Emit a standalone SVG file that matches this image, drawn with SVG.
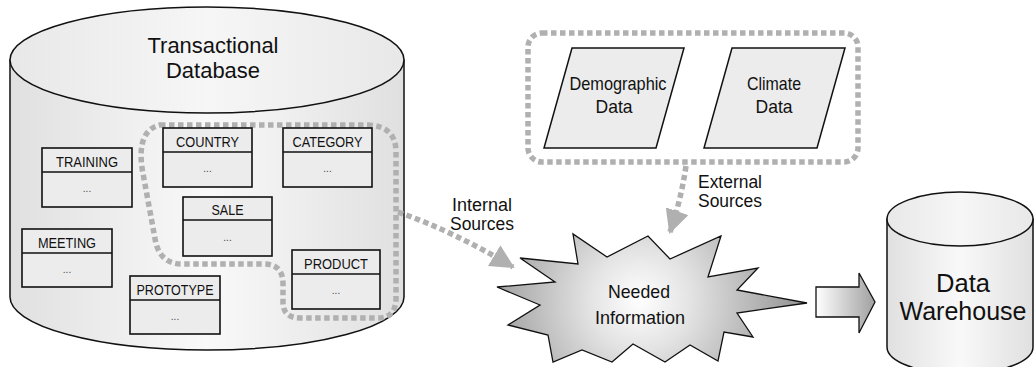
<svg xmlns="http://www.w3.org/2000/svg" width="1035" height="367" viewBox="0 0 1035 367">
<style>
text{font-family:"Liberation Sans",Arial,sans-serif;fill:#111}
.tbl rect{fill:#ececec;stroke:#111;stroke-width:1.6}
.tbl line{stroke:#111;stroke-width:1.6}
.th{font-size:14.5px;text-anchor:middle}
.dots{font-size:10px;text-anchor:middle;fill:#444}
.dash{fill:none;stroke:#b0b0b0;stroke-width:5.5;stroke-dasharray:5.5 3.5}
.lbl{font-size:17.5px;text-anchor:middle}
.big{font-size:19px;text-anchor:middle}
.cyl{stroke:#111;stroke-width:1.5}
</style>
<defs>
<linearGradient id="gBody" x1="0" y1="0" x2="1" y2="0">
<stop offset="0" stop-color="#e0e0e0"/><stop offset="0.5" stop-color="#f9f9f9"/><stop offset="1" stop-color="#e0e0e0"/>
</linearGradient>
<linearGradient id="gTop" x1="0" y1="0" x2="1" y2="0">
<stop offset="0" stop-color="#e8e8e8"/><stop offset="0.5" stop-color="#f6f6f6"/><stop offset="1" stop-color="#e8e8e8"/>
</linearGradient>
<radialGradient id="gStar" cx="640" cy="300" r="150" gradientUnits="userSpaceOnUse">
<stop offset="0" stop-color="#ffffff"/><stop offset="0.35" stop-color="#e2e2e2"/><stop offset="1" stop-color="#9c9c9c"/>
</radialGradient>
<linearGradient id="gArrow" x1="0" y1="0" x2="1" y2="0">
<stop offset="0" stop-color="#ffffff"/><stop offset="1" stop-color="#a0a0a0"/>
</linearGradient>
<marker id="ah" viewBox="0 0 24 24" refX="22" refY="12" markerWidth="24" markerHeight="24" markerUnits="userSpaceOnUse" orient="auto">
<path d="M0 0 L24 12 L0 24 Z" fill="#b0b0b0"/>
</marker>
</defs>

<g id="transactional-db">
<path class="cyl" fill="url(#gBody)" d="M10 60 L10 297 A197 53 0 0 0 404 297 L404 60 Z"/>
<ellipse class="cyl" fill="url(#gTop)" cx="207" cy="60" rx="197" ry="53"/>
<text x="213" y="53" style="font-size:22.5px;text-anchor:middle" textLength="131" lengthAdjust="spacingAndGlyphs">Transactional</text>
<text x="213" y="78" style="font-size:22.5px;text-anchor:middle" textLength="94" lengthAdjust="spacingAndGlyphs">Database</text>
</g>

<g id="internal-region">
<path class="dash" d="M160 125 L368 125 Q396 126 396 152 L396 298 Q396 318 378 318 L300 318 Q283 318 283 302 L283 284 Q283 264 264 264 L182 264 Q162 264 156 244 L142 168 Q137 130 160 125 Z"/>
</g>

<g id="t-training" class="tbl">
<rect x="42" y="148" width="90" height="59"/><line x1="42" y1="172" x2="132" y2="172"/>
<text class="th" x="87" y="167" textLength="62" lengthAdjust="spacingAndGlyphs">TRAINING</text><text class="dots" x="87" y="192">...</text>
</g>
<g id="t-country" class="tbl">
<rect x="163" y="128" width="89" height="59"/><line x1="163" y1="152" x2="252" y2="152"/>
<text class="th" x="207.5" y="147" textLength="63" lengthAdjust="spacingAndGlyphs">COUNTRY</text><text class="dots" x="207.5" y="172">...</text>
</g>
<g id="t-category" class="tbl">
<rect x="283" y="128" width="89" height="59"/><line x1="283" y1="152" x2="372" y2="152"/>
<text class="th" x="327.5" y="147" textLength="70" lengthAdjust="spacingAndGlyphs">CATEGORY</text><text class="dots" x="327.5" y="172">...</text>
</g>
<g id="t-sale" class="tbl">
<rect x="183" y="197" width="89" height="59"/><line x1="183" y1="220" x2="272" y2="220"/>
<text class="th" x="227.5" y="215" textLength="32" lengthAdjust="spacingAndGlyphs">SALE</text><text class="dots" x="227.5" y="241">...</text>
</g>
<g id="t-meeting" class="tbl">
<rect x="22" y="229" width="90" height="58"/><line x1="22" y1="253" x2="112" y2="253"/>
<text class="th" x="67" y="248" textLength="58" lengthAdjust="spacingAndGlyphs">MEETING</text><text class="dots" x="67" y="273">...</text>
</g>
<g id="t-prototype" class="tbl">
<rect x="130" y="276" width="90" height="58"/><line x1="130" y1="300" x2="220" y2="300"/>
<text class="th" x="175" y="295" textLength="77" lengthAdjust="spacingAndGlyphs">PROTOTYPE</text><text class="dots" x="175" y="320">...</text>
</g>
<g id="t-product" class="tbl">
<rect x="292" y="250" width="88" height="59"/><line x1="292" y1="274" x2="380" y2="274"/>
<text class="th" x="336" y="269" textLength="64" lengthAdjust="spacingAndGlyphs">PRODUCT</text><text class="dots" x="336" y="294">...</text>
</g>

<g id="external-region">
<rect class="dash" x="528" y="33" width="330" height="129" rx="14"/>
</g>
<g id="demographic">
<polygon points="572,48 684,48 656,148 544,148" fill="#ececec" stroke="#111" stroke-width="1.5"/>
<text class="lbl" style="font-size:18.5px" x="618" y="90" textLength="97" lengthAdjust="spacingAndGlyphs">Demographic</text>
<text class="lbl" style="font-size:18.5px" x="614" y="113" textLength="37" lengthAdjust="spacingAndGlyphs">Data</text>
</g>
<g id="climate">
<polygon points="732,48 845,48 817,148 704,148" fill="#ececec" stroke="#111" stroke-width="1.5"/>
<text class="lbl" style="font-size:18.5px" x="774" y="90" textLength="54" lengthAdjust="spacingAndGlyphs">Climate</text>
<text class="lbl" style="font-size:18.5px" x="774" y="113" textLength="37" lengthAdjust="spacingAndGlyphs">Data</text>
</g>

<g id="needed-info">
<polygon points="520,258 578,264 573,234 607,257 648,236 670,259 721,236 708,277 758,268 737,290 807,303 737,313 753,337 724,332 718,361 690,345 665,362 633,344 612,362 582,350 553,362 548,335 508,325 540,305 497,287 555,282" fill="url(#gStar)" stroke="#111" stroke-width="1.3" stroke-linejoin="miter"/>
<text class="big" x="639" y="298" textLength="62" lengthAdjust="spacingAndGlyphs">Needed</text>
<text class="big" x="640" y="324" textLength="90" lengthAdjust="spacingAndGlyphs">Information</text>
</g>

<g id="data-warehouse">
<path class="cyl" fill="url(#gBody)" d="M887 219 L887 347 A73 27 0 0 0 1033 347 L1033 219 Z"/>
<ellipse class="cyl" fill="url(#gTop)" cx="960" cy="219" rx="73" ry="27"/>
<text x="963" y="292" style="font-size:26px;text-anchor:middle" textLength="54" lengthAdjust="spacingAndGlyphs">Data</text>
<text x="963" y="320" style="font-size:26px;text-anchor:middle" textLength="127" lengthAdjust="spacingAndGlyphs">Warehouse</text>
</g>

<g id="connectors">
<path class="dash" d="M398 212 Q455 232 513 267" marker-end="url(#ah)"/>
<text class="lbl" x="482" y="211" textLength="60" lengthAdjust="spacingAndGlyphs">Internal</text>
<text class="lbl" x="482" y="230" textLength="64" lengthAdjust="spacingAndGlyphs">Sources</text>
<path class="dash" d="M686 166 Q681 200 670 232" marker-end="url(#ah)"/>
<text class="lbl" x="730" y="188" textLength="64" lengthAdjust="spacingAndGlyphs">External</text>
<text class="lbl" x="730" y="207" textLength="64" lengthAdjust="spacingAndGlyphs">Sources</text>
<polygon points="816,287 859,287 859,273 875,302 859,333 859,317 816,317" fill="url(#gArrow)" stroke="#111" stroke-width="1.3"/>
</g>
</svg>
